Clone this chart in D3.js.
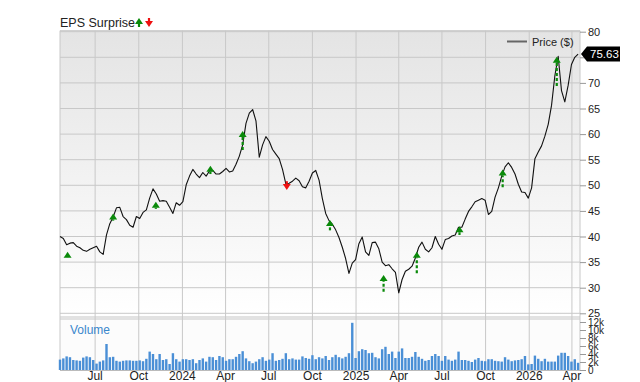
<!DOCTYPE html>
<html>
<head>
<meta charset="utf-8">
<script src="https://cdn.jsdelivr.net/npm/d3@7"></script>
<style>
  body { margin: 0; background: #fff; }
  svg { display: block; font-family: "Liberation Sans", Arial, sans-serif; }
</style>
</head>
<body>
<svg id="chart" width="640" height="382"></svg>
<script>
// weekly closes, first week starting 2023-04-18
var startDate = new Date(2023, 3, 18);
var prices = [
  40.0, 39.6, 38.4, 38.7, 38.8, 38.1, 37.8, 37.3, 37.1, 37.5,
  37.8, 38.1, 37.0, 36.5, 40.3, 42.5, 43.8, 45.6, 45.7, 43.9,
  43.3, 42.2, 41.8, 43.9, 43.5, 44.7, 45.2, 47.5, 49.3, 48.3,
  46.9, 47.0, 46.9, 45.7, 44.5, 46.6, 46.1, 46.8, 50.1, 51.8,
  53.1, 52.2, 51.5, 52.5, 51.8, 52.8, 52.9, 52.2, 52.2, 52.7,
  53.3, 52.6, 52.8, 54.1, 55.7, 57.9, 62.1, 64.1, 64.8, 62.6,
  55.5, 57.9, 59.5, 58.6, 57.0, 56.1, 55.2, 53.1, 50.3, 50.4,
  50.8, 51.4, 50.9, 49.7, 49.5, 50.8, 52.4, 52.9, 51.0, 47.4,
  44.5, 43.1, 42.4, 41.3, 39.8, 37.9, 35.7, 32.8, 34.8, 35.5,
  38.6, 39.9, 37.0, 36.3, 38.8, 38.9, 37.6, 35.0, 34.3, 34.5,
  33.7, 33.0, 29.0, 31.6, 33.2, 33.6, 34.2, 35.8, 37.9, 38.9,
  37.5, 37.0, 37.8, 40.0, 38.5, 37.5, 39.4, 39.6, 40.1, 40.3,
  41.8, 41.8, 43.4, 44.9, 45.8, 46.8, 47.1, 47.4, 47.1, 44.3,
  44.9, 47.7, 49.5, 51.8, 53.6, 54.4, 53.5, 52.2, 50.2, 48.7,
  48.6, 47.5, 49.5, 55.2, 56.5, 57.7, 59.6, 61.9, 65.6, 71.4,
  75.2, 68.5, 66.3, 69.5, 73.6, 75.0, 75.63
];
// weekly volume, thousands
var volumes = [
  2.6, 2.9, 3.4, 3.2, 2.5, 2.4, 2.3, 3.1, 3.4, 3.2,
  2.5, 1.6, 2.1, 2.4, 6.5, 3.2, 3.3, 2.3, 2.1, 2.3,
  2.4, 2.4, 2.3, 2.3, 2.4, 2.2, 2.8, 4.6, 4.0, 2.7,
  4.0, 2.5, 2.7, 1.5, 4.2, 2.7, 2.1, 2.7, 2.7, 2.5,
  2.7, 1.7, 2.5, 2.9, 2.1, 3.3, 3.2, 2.5, 3.5, 3.2,
  2.3, 2.7, 2.7, 3.3, 4.0, 4.7, 2.9, 2.2, 1.7, 2.1,
  2.7, 3.2, 2.3, 2.6, 4.2, 2.3, 2.5, 2.8, 4.2, 2.7,
  2.9, 2.6, 2.6, 3.4, 3.0, 2.8, 3.7, 2.7, 3.2, 2.9,
  3.5, 2.5, 3.2, 3.8, 3.2, 2.9, 3.3, 4.2, 11.8, 3.0,
  4.7, 5.2, 5.0, 4.2, 4.3, 3.2, 2.9, 5.2, 5.8, 4.0,
  4.6, 3.0, 4.6, 5.4, 3.0, 3.0, 3.3, 4.5, 3.3, 2.8,
  2.3, 2.5, 3.5, 4.0, 3.5, 2.3, 3.5, 2.6, 2.3, 2.6,
  4.6, 2.5, 2.5, 2.3, 2.0, 2.6, 3.0, 2.3, 2.2, 2.7,
  2.7, 2.3, 2.2, 2.1, 3.2, 2.6, 2.2, 2.4, 2.5, 2.7,
  3.5, 1.4, 1.5, 3.6, 2.8, 2.2, 2.8, 2.1, 2.1, 2.1,
  3.6, 4.3, 4.3, 3.5, 2.1, 2.7, 1.8
];

// earnings surprises: date, direction, arrow start (price) and end (price)
var epsDates = ["2023-05-04", "2023-08-08", "2023-11-06", "2024-02-29", "2024-05-07", "2024-08-08",
                "2024-11-07", "2025-02-28", "2025-05-09", "2025-08-07", "2025-11-06", "2026-02-28"];
var epsDir   = ["up", "up", "up", "up", "up", "down", "up", "up", "up", "up", "up", "up"];
var epsFrom  = [35.8, 43.1, 45.4, 52.2, 56.9, 50.8, 41.2, 29.2, 32.8, 40.3, 49.6, 69.4];
var epsTo    = [37.0, 44.5, 46.8, 53.8, 60.6, 49.1, 43.2, 32.5, 37.0, 42.0, 53.1, 75.1];

var priceTicks = [25, 30, 35, 40, 45, 50, 55, 60, 65, 70, 75, 80];
var volTicks = [0, 2, 4, 6, 8, 10, 12];
var lastPrice = "75.63";

var svg = d3.select("#chart");
var left = 60, right = 580;
var priceTop = 31.7, priceBottom = 313.3;
var volTop = 322, volBottom = 370;

var parse = d3.timeParse("%Y-%m-%d");
var dates = prices.map(function (d, i) { return d3.timeDay.offset(startDate, 7 * i); });

var x = d3.scaleTime()
    .domain([startDate, new Date(2026, 3, 18)])
    .range([left, right]);
var y = d3.scaleLinear().domain([25, 80]).range([priceBottom, priceTop]);
var yv = d3.scaleLinear().domain([0, 12]).range([volBottom, volTop]);

// background gradient
var defs = svg.append("defs");
var grad = defs.append("linearGradient").attr("id", "bg")
    .attr("x1", 0).attr("y1", 0).attr("x2", 0).attr("y2", 1);
grad.append("stop").attr("offset", "0%").attr("stop-color", "#e4e4e4");
grad.append("stop").attr("offset", "100%").attr("stop-color", "#ffffff");

svg.append("rect").attr("x", left).attr("y", priceTop - 1)
    .attr("width", right - left).attr("height", priceBottom - priceTop + 3)
    .attr("fill", "url(#bg)");
svg.append("rect").attr("x", left).attr("y", 316)
    .attr("width", right - left).attr("height", 4)
    .attr("fill", "#e2e2e2");
svg.append("rect").attr("x", left).attr("y", 320)
    .attr("width", right - left).attr("height", volBottom - 320)
    .attr("fill", "#fcfcfc");

// grid
var monthTicks = d3.timeMonth.every(3).range(new Date(2023, 6, 1), new Date(2026, 3, 2));
svg.append("g").selectAll("line").data(monthTicks).enter().append("line")
    .attr("x1", function (d) { return x(d); }).attr("x2", function (d) { return x(d); })
    .attr("y1", priceTop - 1).attr("y2", volBottom)
    .attr("stroke", "#c8c8c8").attr("stroke-width", 1);
svg.append("g").selectAll("line").data(priceTicks).enter().append("line")
    .attr("x1", left).attr("x2", right)
    .attr("y1", function (d) { return y(d); }).attr("y2", function (d) { return y(d); })
    .attr("stroke", "#c8c8c8").attr("stroke-width", 1);
svg.append("line").attr("x1", left).attr("x2", left).attr("y1", priceTop - 1).attr("y2", volBottom)
    .attr("stroke", "#c8c8c8");
svg.append("line").attr("x1", right).attr("x2", right).attr("y1", priceTop - 1).attr("y2", volBottom)
    .attr("stroke", "#c8c8c8");
svg.append("line").attr("x1", left).attr("x2", right).attr("y1", priceTop - 1).attr("y2", priceTop - 1)
    .attr("stroke", "#c8c8c8");

// volume bars
svg.append("g").selectAll("rect").data(volumes).enter().append("rect")
    .attr("x", function (d, i) { return x(dates[i]) - 1.2; })
    .attr("width", 2.4)
    .attr("y", function (d) { return yv(d); })
    .attr("height", function (d) { return volBottom - yv(d); })
    .attr("fill", "#4a8fd6");
svg.append("line").attr("x1", left).attr("x2", right).attr("y1", volBottom + 0.5).attr("y2", volBottom + 0.5)
    .attr("stroke", "#bbb");
svg.append("text").attr("x", 70).attr("y", 334).text("Volume")
    .attr("font-size", 12).attr("fill", "#3a87cc");

// price line
var line = d3.line()
    .x(function (d, i) { return x(dates[i]); })
    .y(function (d) { return y(d); });
svg.append("path").datum(prices).attr("d", line)
    .attr("fill", "none").attr("stroke", "#111").attr("stroke-width", 1.1)
    .attr("stroke-linejoin", "round");

// eps arrows
function drawArrow(g, cx, y0, y1, up, color, dash) {
    var head = 6, hw = 4;
    var neck = up ? y1 + head : y1 - head;
    g.append("line").attr("x1", cx).attr("x2", cx).attr("y1", y0).attr("y2", neck)
        .attr("stroke", color).attr("stroke-width", 2.2)
        .attr("stroke-dasharray", dash ? "3,2" : null);
    g.append("path").attr("d", "M" + (cx - hw) + "," + neck + "L" + cx + "," + y1 + "L" + (cx + hw) + "," + neck + "Z")
        .attr("fill", color);
}
var arrows = svg.append("g");
epsDates.forEach(function (d, i) {
    var up = epsDir[i] === "up";
    drawArrow(arrows, x(parse(d)), y(epsFrom[i]), y(epsTo[i]), up, up ? "#0a8a0a" : "#ee1111", true);
});

// right axes (75 label sits under the last-price tag)
var axisP = d3.axisRight(y).tickValues(priceTicks).tickSize(6).tickPadding(2)
    .tickFormat(function (d) { return d === 75 ? "" : d; });
var gp = svg.append("g").attr("transform", "translate(" + right + ",0)").call(axisP);
var axisV = d3.axisRight(yv).tickValues(volTicks).tickSize(6).tickPadding(2)
    .tickFormat(function (d) { return d === 0 ? "0" : d + "k"; });
var gv = svg.append("g").attr("transform", "translate(" + right + ",0)").call(axisV);
[gp, gv].forEach(function (g) {
    g.select(".domain").remove();
    g.selectAll(".tick line").attr("stroke", "#999");
    g.selectAll("text").attr("font-size", 11).attr("fill", "#222")
        .attr("font-family", "Liberation Sans, Arial, sans-serif");
});
gv.selectAll("text").attr("font-size", 10);

// bottom axis labels
var fmt = function (d) {
    return d.getMonth() === 0 ? d3.timeFormat("%Y")(d) : d3.timeFormat("%b")(d);
};
svg.append("g").selectAll("text").data(monthTicks).enter().append("text")
    .attr("x", function (d) { return x(d); }).attr("y", 380)
    .attr("text-anchor", "middle").attr("font-size", 12).attr("fill", "#222")
    .text(fmt);

// last price tag
var ly = y(+lastPrice);
svg.append("path")
    .attr("d", "M581," + ly + "L587," + (ly - 7.5) + "L620," + (ly - 7.5) + "L620," + (ly + 7.5) + "L587," + (ly + 7.5) + "Z")
    .attr("fill", "#000");
svg.append("text").attr("x", 590).attr("y", ly + 4).text(lastPrice)
    .attr("font-size", 11.5).attr("fill", "#fff");

// legend
svg.append("line").attr("x1", 507).attr("x2", 527).attr("y1", 41.5).attr("y2", 41.5)
    .attr("stroke", "#666").attr("stroke-width", 2);
svg.append("text").attr("x", 532).attr("y", 45.5).text("Price ($)")
    .attr("font-size", 11).attr("fill", "#222");

// title
svg.append("text").attr("x", 60).attr("y", 27).text("EPS Surprise")
    .attr("font-size", 12.5).attr("fill", "#222");
drawArrow(svg, 139, 27, 18, true, "#0a8a0a", false);
drawArrow(svg, 149, 18, 27, false, "#ee1111", false);
</script>
</body>
</html>
